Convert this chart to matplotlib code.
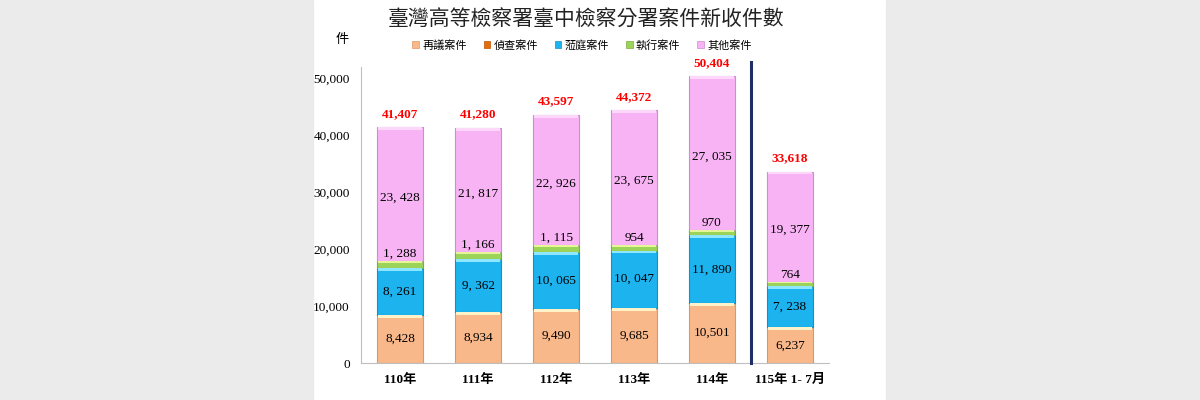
import matplotlib
matplotlib.use("Agg")
import matplotlib.pyplot as plt
from matplotlib.patches import Rectangle, Patch

plt.rcParams['font.family'] = ['Liberation Serif', 'Noto Sans CJK TC', 'DejaVu Sans']

# data
years = ['110年', '111年', '112年', '113年', '114年', '115年 1- 7月']
series = ['再議案件', '偵查案件', '蒞庭案件', '執行案件', '其他案件']
reconsider = [8428, 8934, 9490, 9685, 10501, 6237]
investigate = [2, 1, 1, 11, 8, 2]
court = [8261, 9362, 10065, 10047, 11890, 7238]
execute = [1288, 1166, 1115, 954, 970, 764]
other = [23428, 21817, 22926, 23675, 27035, 19377]
totals = [41407, 41280, 43597, 44372, 50404, 33618]

colors = ['#F9B88A', '#E46C0A', '#1CB3EE', '#9CD45A', '#F8B3F4']
edges = ['#D9986A', '#B85508', '#1590C0', '#7AAA40', '#C88FD0']
lights = ['#FFF1C8', '#F3A060', '#8FE6FF', '#E6F59A', '#FDD8FB']

fig = plt.figure(figsize=(12, 4), dpi=100)
fig.patch.set_facecolor('white')
# grey side margins
fig.patches.append(Rectangle((0, 0), 313 / 1200, 1, transform=fig.transFigure,
                             color='#EBEBEB', zorder=-10))
fig.patches.append(Rectangle((886 / 1200, 0), 1 - 886 / 1200, 1, transform=fig.transFigure,
                             color='#EBEBEB', zorder=-10))

ax = fig.add_axes([361 / 1200, 37 / 400, 468 / 1200, 296 / 400])
ax.set_xlim(-0.5, 5.5)
ax.set_ylim(0, 52000)

w = 0.59
data = [reconsider, investigate, court, execute, other]
x = list(range(len(years)))
bottoms = [0] * len(years)
for k, vals in enumerate(data):
    ax.bar(x, vals, w, bottom=bottoms, color=colors[k], edgecolor=edges[k],
           linewidth=0.8, zorder=2)
    # bevel highlight at the top of each segment
    hl = [min(500, v * 0.3) for v in vals]
    hb = [b + v - h for b, v, h in zip(bottoms, vals, hl)]
    ax.bar(x, hl, w * 0.94, bottom=hb, color=lights[k], linewidth=0, zorder=3)
    bottoms = [b + v for b, v in zip(bottoms, vals)]

for i in x:
    b0 = reconsider[i]
    ax.text(i, b0 / 2, f'{reconsider[i]:,}', ha='center', va='center', fontsize=9.5, zorder=5)
    b1 = b0 + investigate[i]
    ax.text(i, b1 + court[i] / 2, f'{court[i]:,}'.replace(',', ', '),
            ha='center', va='center', fontsize=9.5, zorder=5)
    b2 = b1 + court[i] + execute[i]
    ax.text(i, b2 + 250, f'{execute[i]:,}'.replace(',', ', '),
            ha='center', va='bottom', fontsize=9.5, zorder=5)
    ax.text(i, b2 + other[i] / 2 - 600, f'{other[i]:,}'.replace(',', ', '),
            ha='center', va='center', fontsize=9.5, zorder=5)
    ax.text(i, totals[i] + 1300, f'{totals[i]:,}', ha='center', va='bottom',
            fontsize=9.5, fontweight='bold', color='#FF0000', zorder=5)

# separator between full years and the current partial year
ax.plot([4.5, 4.5], [0, 52800], color='#1F2F66', linewidth=2.2, clip_on=False, zorder=4)

ax.set_xticks(x)
ax.set_xticklabels(years, fontsize=9.5, fontweight='bold')
ax.set_yticks(range(0, 50001, 10000))
ax.set_yticklabels([f'{v:,}' for v in range(0, 50001, 10000)], fontsize=9.5)
ax.tick_params(length=0, pad=8)
for s in ['top', 'right']:
    ax.spines[s].set_visible(False)
ax.spines['left'].set_color('#BFBFBF')
ax.spines['bottom'].set_color('#BFBFBF')

fig.text(586 / 1200, 1 - 20 / 400, '臺灣高等檢察署臺中檢察分署案件新收件數',
         ha='center', va='center', fontsize=15, color='#222222',
         family=['Noto Sans CJK TC'])
fig.text(342 / 1200, 1 - 39 / 400, '件', ha='center', va='center', fontsize=9.5,
         family=['Noto Sans CJK TC'])

handles = [Patch(facecolor=c, edgecolor=e, linewidth=0.5) for c, e in zip(colors, edges)]
fig.legend(handles, series, loc='center', bbox_to_anchor=(582 / 1200, 1 - 45 / 400), ncol=5,
           frameon=False, handlelength=0.6, handleheight=0.6, handletextpad=0.3,
           columnspacing=1.5, prop={'family': 'Noto Sans CJK TC', 'size': 8})

fig.savefig('out.png', dpi=100)
